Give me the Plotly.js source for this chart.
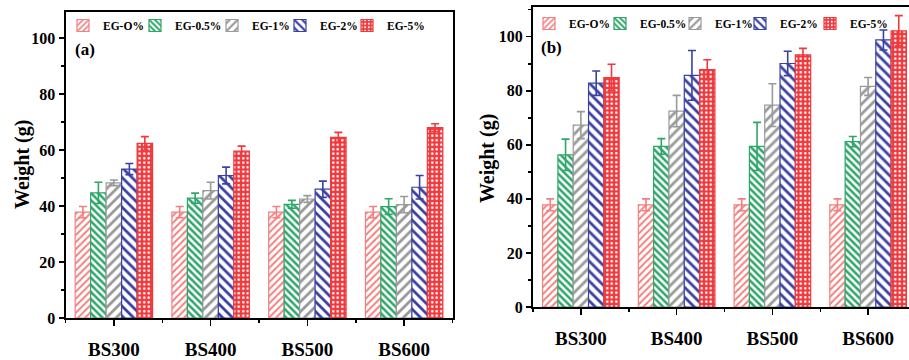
<!DOCTYPE html>
<html>
<head>
<meta charset="utf-8">
<script src="https://cdn.plot.ly/plotly-3.0.1.min.js"></script>
<style>
html, body { margin: 0; padding: 0; overflow: hidden; background: #fff; }
#chart { width: 916px; height: 360px; }
</style>
</head>
<body>
<div id="chart"></div>
<script>
// ---- data ----
const categories = ['BS300', 'BS400', 'BS500', 'BS600'];
const seriesNames = ['EG-O%', 'EG-0.5%', 'EG-1%', 'EG-2%', 'EG-5%'];

// Panel (a)
const a_EG0   = [37.8, 37.8, 37.8, 37.8];
const a_EG05  = [44.7, 42.8, 40.6, 39.8];
const a_EG1   = [48.3, 45.5, 42.5, 40.5];
const a_EG2   = [53.2, 50.9, 46.0, 46.7];
const a_EG5   = [62.4, 59.6, 64.5, 68.0];
const a_err0  = [2.0, 2.0, 2.0, 2.0];
const a_err05 = [3.8, 1.8, 1.4, 2.8];
const a_err1  = [1.0, 3.0, 1.2, 2.9];
const a_err2  = [2.0, 3.0, 2.9, 4.2];
const a_err5  = [2.4, 1.8, 1.8, 1.4];

// Panel (b)
const b_EG0   = [37.8, 37.8, 37.8, 37.8];
const b_EG05  = [56.3, 59.4, 59.4, 61.2];
const b_EG1   = [67.3, 72.5, 74.7, 81.6];
const b_EG2   = [82.8, 85.7, 90.1, 98.8];
const b_EG5   = [84.9, 87.8, 93.3, 102.2];
const b_err0  = [2.2, 2.2, 2.2, 2.2];
const b_err05 = [5.8, 2.9, 8.9, 1.9];
const b_err1  = [5.0, 5.8, 7.9, 3.3];
const b_err2  = [4.5, 9.2, 4.5, 3.7];
const b_err5  = [4.9, 3.7, 2.4, 5.6];

const yTickVals = [0, 20, 40, 60, 80, 100];
const yTitle = 'Weight (g)';

// ---- styles ----
const FONT = 'Liberation Serif, Times New Roman, serif';
const colors = ['#f47f7f', '#2ea66a', '#9a9a9a', '#3a41a3', '#f0393d'];
const patterns = [
  {shape: '/', fgcolor: colors[0], bgcolor: '#ffffff', size: 5, solidity: 0.4, fillmode: 'replace'},
  {shape: '\\', fgcolor: colors[1], bgcolor: '#ffffff', size: 5, solidity: 0.5, fillmode: 'replace'},
  {shape: '/', fgcolor: colors[2], bgcolor: '#ffffff', size: 7, solidity: 0.4, fillmode: 'replace'},
  {shape: '\\', fgcolor: colors[3], bgcolor: '#ffffff', size: 7, solidity: 0.4, fillmode: 'replace'},
  {shape: '.', fgcolor: '#ffffff', bgcolor: colors[4], size: 4.5, solidity: 0.25, fillmode: 'replace'}
];
const legendWidthsA = [27, 32, 23, 22, 45];
const legendWidthsB = [26, 30, 20, 25, 45];

const xIdx = categories.map((c, i) => i);
const aVals = [a_EG0, a_EG05, a_EG1, a_EG2, a_EG5];
const aErrs = [a_err0, a_err05, a_err1, a_err2, a_err5];
const bVals = [b_EG0, b_EG05, b_EG1, b_EG2, b_EG5];
const bErrs = [b_err0, b_err05, b_err1, b_err2, b_err5];

const traces = [];
function addPanel(vals, errs, xa, ya, leg, lw) {
  vals.forEach((v, k) => {
    traces.push({
      type: 'bar',
      name: seriesNames[k],
      x: xIdx,
      y: v,
      xaxis: xa,
      yaxis: ya,
      legend: leg,
      legendwidth: lw[k],
      marker: {color: '#ffffff', line: {color: colors[k], width: 1.2}, pattern: patterns[k]},
      error_y: {type: 'data', array: errs[k], visible: true, color: colors[k], thickness: 1.6, width: 4},
      hoverinfo: 'skip'
    });
  });
}
addPanel(aVals, aErrs, 'x', 'y', 'legend', legendWidthsA);
addPanel(bVals, bErrs, 'x2', 'y2', 'legend2', legendWidthsB);

const axisFont = {family: FONT, size: 16, color: '#000', weight: 'bold'};
function xAxis(domain, anchor) {
  return {
    domain: domain, anchor: anchor, type: 'linear', range: [-0.5, 3.5],
    tickvals: xIdx, ticktext: categories,
    ticks: 'outside', ticklen: 6, tickwidth: 1.5, tickcolor: '#000',
    minor: {tick0: 0.5, dtick: 1, ticks: 'outside', ticklen: 3, tickwidth: 1.5, tickcolor: '#000'},
    showline: true, linecolor: '#000', linewidth: 2, mirror: true,
    showgrid: false, zeroline: false, automargin: false,
    ticklabelstandoff: 7,
    tickfont: {family: FONT, size: 19, color: '#000', weight: 'bold'}
  };
}
function yAxis(domain, anchor, top) {
  return {
    domain: domain, anchor: anchor, range: [0, top],
    tickvals: yTickVals,
    ticks: 'outside', ticklen: 5, tickwidth: 1.5, tickcolor: '#000',
    minor: {dtick: 10, ticks: 'outside', ticklen: 3, tickwidth: 1.5, tickcolor: '#000'},
    showline: true, linecolor: '#000', linewidth: 2, mirror: true,
    showgrid: false, zeroline: false, automargin: false,
    tickfont: axisFont
  };
}

const legendBase = {
  orientation: 'h', xanchor: 'left', yanchor: 'top',
  font: {family: FONT, size: 11.5, color: '#000', weight: 'bold'},
  bgcolor: 'rgba(0,0,0,0)', borderwidth: 0,
  tracegroupgap: 0, itemclick: false
};

const titleFont = {family: FONT, size: 20, color: '#000', weight: 'bold'};
const layout = {
  width: 916, height: 360,
  margin: {l: 0, r: 0, t: 0, b: 0},
  paper_bgcolor: '#fff', plot_bgcolor: '#fff',
  barmode: 'group', bargap: 0.2, bargroupgap: 0,
  showlegend: true,
  xaxis: xAxis([65.5 / 916, 452.5 / 916], 'y'),
  yaxis: yAxis([42 / 360, 348 / 360], 'x', 109.3),
  xaxis2: xAxis([533 / 916, 1], 'y2'),
  yaxis2: yAxis([53 / 360, 353 / 360], 'x2', 111),
  legend: Object.assign({}, legendBase, {x: 63 / 916, y: 1 - 11 / 360}),
  legend2: Object.assign({}, legendBase, {x: 529 / 916, y: 1 - 9 / 360}),
  annotations: [
    {text: '(a)', xref: 'x domain', yref: 'y domain', x: 0.02, y: 0.876, xanchor: 'left', yanchor: 'middle',
     showarrow: false, font: {family: FONT, size: 17, color: '#000', weight: 'bold'}},
    {text: '(b)', xref: 'x2 domain', yref: 'y2 domain', x: 0.016, y: 0.865, xanchor: 'left', yanchor: 'middle',
     showarrow: false, font: {family: FONT, size: 17, color: '#000', weight: 'bold'}},
    {text: yTitle, xref: 'x domain', yref: 'y domain', x: 0, y: 0.5, xshift: -43.5, textangle: -90,
     xanchor: 'center', yanchor: 'middle', showarrow: false, font: titleFont},
    {text: yTitle, xref: 'x2 domain', yref: 'y2 domain', x: 0, y: 0.493, xshift: -46, textangle: -90,
     xanchor: 'center', yanchor: 'middle', showarrow: false, font: titleFont}
  ]
};

Plotly.newPlot('chart', traces, layout, {staticPlot: true, displayModeBar: false});
</script>
</body>
</html>
